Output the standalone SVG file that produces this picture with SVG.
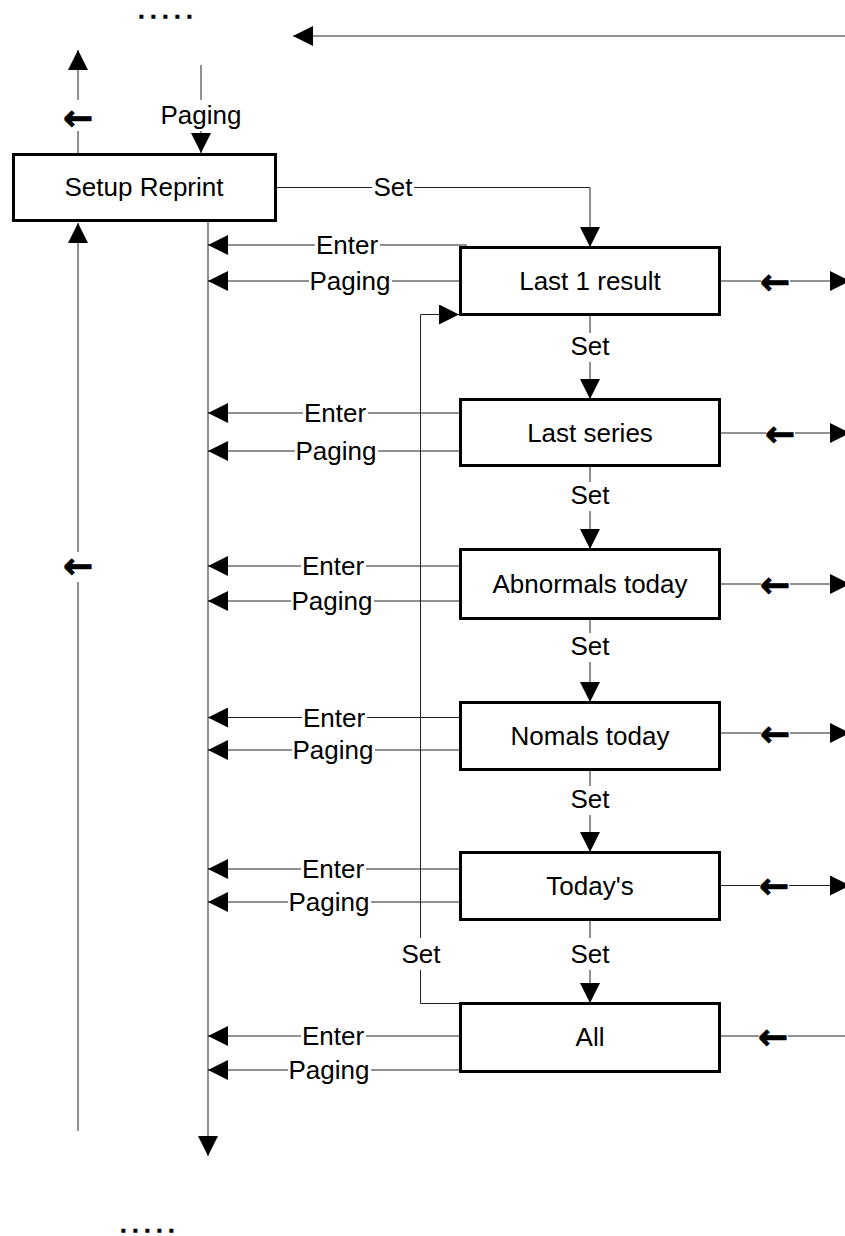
<svg xmlns="http://www.w3.org/2000/svg" width="845" height="1236" viewBox="0 0 845 1236">
<style>
.box{fill:#fff;stroke:#000;stroke-width:3}
.t{font-family:"Liberation Sans",Arial,sans-serif;font-size:26px;fill:#000;text-anchor:middle}
.c{fill:none;stroke:#222;stroke-width:1}
.bg{fill:#fff}
.g{font-family:"DejaVu Sans",sans-serif;font-weight:bold;font-size:36px;fill:#000;stroke:#000;stroke-width:0.8;text-anchor:middle}
.dots{font-family:"Liberation Sans",Arial,sans-serif;font-weight:bold;font-size:17px;letter-spacing:7.3px;fill:#000;stroke:#000;stroke-width:1.6}
</style>
<defs>
<marker id="ah" viewBox="0 0 20 20" refX="20" refY="10" markerWidth="20" markerHeight="20" markerUnits="userSpaceOnUse" orient="auto">
<path d="M0,0 L20,10 L0,20 z" fill="#000"/>
</marker>
</defs>
<g id="connectors">
<!-- top return arrow -->
<line class="c" x1="845" y1="36" x2="293" y2="36" marker-end="url(#ah)"/>
<!-- left up arrow from Setup Reprint -->
<line class="c" x1="78" y1="153" x2="78" y2="50" marker-end="url(#ah)"/>
<rect class="bg" x="63" y="100" width="30" height="31"/>
<text class="g" x="78" y="129.5">←</text>
<!-- Paging into Setup Reprint -->
<line class="c" x1="201" y1="65" x2="201" y2="153" marker-end="url(#ah)"/>
<rect class="bg" x="158" y="100" width="86" height="31"/>
<text class="t" x="201" y="124">Paging</text>
<!-- long left return -->
<line class="c" x1="78" y1="1131" x2="78" y2="223" marker-end="url(#ah)"/>
<rect class="bg" x="63" y="552" width="30" height="30"/>
<text class="g" x="78" y="578">←</text>
<!-- main vertical -->
<line class="c" x1="208" y1="221" x2="208" y2="1156" marker-end="url(#ah)"/>
<!-- Set from Setup Reprint to Last 1 result -->
<polyline class="c" points="276,187.5 590,187.5 590,247" marker-end="url(#ah)"/>
<rect class="bg" x="372" y="172" width="42" height="28"/>
<text class="t" x="393" y="196">Set</text>
<!-- Set loop from All back to Last 1 result -->
<polyline class="c" points="459,1003.5 420.5,1003.5 420.5,314.5 459,314.5" marker-end="url(#ah)"/>
<rect class="bg" x="400" y="938" width="42" height="32"/>
<text class="t" x="421" y="963">Set</text>

<!-- Box1 rows -->
<line class="c" x1="467" y1="245" x2="208" y2="245" marker-end="url(#ah)"/>
<rect class="bg" x="315" y="234" width="65" height="22"/>
<text class="t" x="347" y="254">Enter</text>
<line class="c" x1="459" y1="281" x2="208" y2="281" marker-end="url(#ah)"/>
<rect class="bg" x="309" y="270" width="83" height="22"/>
<text class="t" x="350" y="290">Paging</text>
<line class="c" x1="720" y1="281" x2="850" y2="281" marker-end="url(#ah)"/>
<rect class="bg" x="761" y="270" width="29" height="22"/>
<text class="g" x="775" y="293.5">←</text>
<!-- Set 1->2 -->
<line class="c" x1="590" y1="315" x2="590" y2="399" marker-end="url(#ah)"/>
<rect class="bg" x="570" y="333" width="40" height="29"/>
<text class="t" x="590" y="355">Set</text>

<!-- Box2 rows -->
<line class="c" x1="459" y1="413" x2="208" y2="413" marker-end="url(#ah)"/>
<rect class="bg" x="303" y="402" width="65" height="22"/>
<text class="t" x="335" y="422">Enter</text>
<line class="c" x1="459" y1="451" x2="208" y2="451" marker-end="url(#ah)"/>
<rect class="bg" x="295" y="440" width="83" height="22"/>
<text class="t" x="336" y="460">Paging</text>
<line class="c" x1="720" y1="433" x2="850" y2="433" marker-end="url(#ah)"/>
<rect class="bg" x="766" y="422" width="29" height="22"/>
<text class="g" x="780" y="445.5">←</text>
<!-- Set 2->3 -->
<line class="c" x1="590" y1="466" x2="590" y2="549" marker-end="url(#ah)"/>
<rect class="bg" x="570" y="482" width="40" height="29"/>
<text class="t" x="590" y="504">Set</text>

<!-- Box3 rows -->
<line class="c" x1="459" y1="566" x2="208" y2="566" marker-end="url(#ah)"/>
<rect class="bg" x="301" y="555" width="65" height="22"/>
<text class="t" x="333" y="575">Enter</text>
<line class="c" x1="459" y1="601" x2="208" y2="601" marker-end="url(#ah)"/>
<rect class="bg" x="291" y="590" width="83" height="22"/>
<text class="t" x="332" y="610">Paging</text>
<line class="c" x1="720" y1="584" x2="850" y2="584" marker-end="url(#ah)"/>
<rect class="bg" x="761" y="573" width="29" height="22"/>
<text class="g" x="775" y="596.5">←</text>
<!-- Set 3->4 -->
<line class="c" x1="590" y1="619" x2="590" y2="702" marker-end="url(#ah)"/>
<rect class="bg" x="570" y="633" width="40" height="29"/>
<text class="t" x="590" y="655">Set</text>

<!-- Box4 rows -->
<line class="c" x1="459" y1="717.5" x2="208" y2="717.5" marker-end="url(#ah)"/>
<rect class="bg" x="302" y="707" width="65" height="22"/>
<text class="t" x="334" y="727">Enter</text>
<line class="c" x1="459" y1="750" x2="208" y2="750" marker-end="url(#ah)"/>
<rect class="bg" x="292" y="739" width="83" height="22"/>
<text class="t" x="333" y="759">Paging</text>
<line class="c" x1="720" y1="733" x2="850" y2="733" marker-end="url(#ah)"/>
<rect class="bg" x="761" y="722" width="29" height="22"/>
<text class="g" x="775" y="745.5">←</text>
<!-- Set 4->5 -->
<line class="c" x1="590" y1="770" x2="590" y2="852" marker-end="url(#ah)"/>
<rect class="bg" x="570" y="786" width="40" height="29"/>
<text class="t" x="590" y="808">Set</text>

<!-- Box5 rows -->
<line class="c" x1="459" y1="869" x2="208" y2="869" marker-end="url(#ah)"/>
<rect class="bg" x="301" y="858" width="65" height="22"/>
<text class="t" x="333" y="878">Enter</text>
<line class="c" x1="459" y1="902" x2="208" y2="902" marker-end="url(#ah)"/>
<rect class="bg" x="288" y="891" width="83" height="22"/>
<text class="t" x="329" y="911">Paging</text>
<line class="c" x1="720" y1="885.5" x2="850" y2="885.5" marker-end="url(#ah)"/>
<rect class="bg" x="760" y="874" width="29" height="22"/>
<text class="g" x="774" y="898">←</text>
<!-- Set 5->6 -->
<line class="c" x1="590" y1="920" x2="590" y2="1003" marker-end="url(#ah)"/>
<rect class="bg" x="570" y="938" width="40" height="32"/>
<text class="t" x="590" y="963">Set</text>

<!-- Box6 rows -->
<line class="c" x1="459" y1="1036" x2="208" y2="1036" marker-end="url(#ah)"/>
<rect class="bg" x="301" y="1025" width="65" height="22"/>
<text class="t" x="333" y="1045">Enter</text>
<line class="c" x1="459" y1="1070" x2="208" y2="1070" marker-end="url(#ah)"/>
<rect class="bg" x="288" y="1059" width="83" height="22"/>
<text class="t" x="329" y="1079">Paging</text>
<line class="c" x1="720" y1="1036" x2="845" y2="1036"/>
<rect class="bg" x="759" y="1025" width="29" height="22"/>
<text class="g" x="773" y="1048.5">←</text>
</g>

<g id="setup-reprint">
<rect class="box" x="13.5" y="154.5" width="262" height="66"/>
<text class="t" x="144" y="196">Setup Reprint</text>
</g>
<g id="last-1-result">
<rect class="box" x="460.5" y="247.5" width="259" height="67"/>
<text class="t" x="590" y="290">Last 1 result</text>
</g>
<g id="last-series">
<rect class="box" x="460.5" y="399.5" width="259" height="66"/>
<text class="t" x="590" y="442">Last series</text>
</g>
<g id="abnormals-today">
<rect class="box" x="460.5" y="549.5" width="259" height="69"/>
<text class="t" x="590" y="593">Abnormals today</text>
</g>
<g id="nomals-today">
<rect class="box" x="460.5" y="702.5" width="259" height="67"/>
<text class="t" x="590" y="745">Nomals today</text>
</g>
<g id="todays">
<rect class="box" x="460.5" y="852.5" width="259" height="67"/>
<text class="t" x="590" y="895">Today's</text>
</g>
<g id="all">
<rect class="box" x="460.5" y="1003.5" width="259" height="68"/>
<text class="t" x="590" y="1046">All</text>
</g>

<text class="dots" x="139" y="17.5">.....</text>
<text class="dots" x="121" y="1232">.....</text>
</svg>
